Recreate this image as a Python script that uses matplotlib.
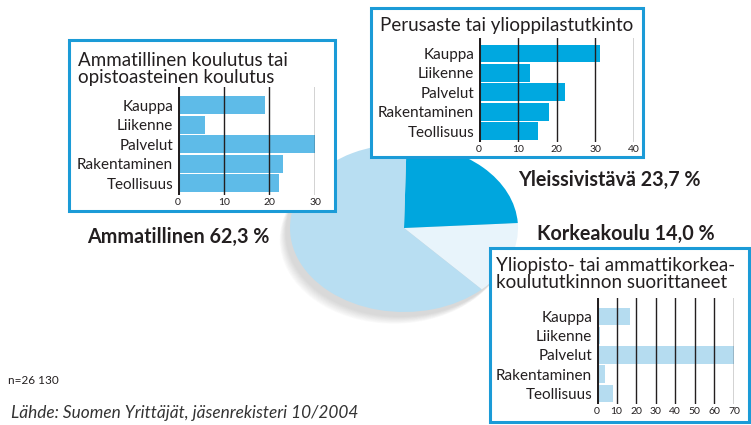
import matplotlib
matplotlib.use("Agg")
import matplotlib.pyplot as plt
from matplotlib.patches import Rectangle, Ellipse

plt.rcParams['font.family'] = ['Lato', 'DejaVu Sans']

W, H = 751, 425

# ---- data ----
pie_labels = ["Korkeakoulu", "Yleissivistävä", "Ammatillinen"]
pie_values = [14.0, 23.7, 62.3]
pie_texts = ["Korkeakoulu 14,0 %", "Yleissivistävä 23,7 %", "Ammatillinen 62,3 %"]

categories = ["Kauppa", "Liikenne", "Palvelut", "Rakentaminen", "Teollisuus"]
ammatillinen = [19.0, 6.0, 30.2, 23.0, 22.2]
perusaste = [31.2, 13.1, 22.1, 18.0, 15.2]
korkea = [17.1, 1.7, 70.0, 3.9, 8.0]

ticks1 = [0, 10, 20, 30]
ticks2 = [0, 10, 20, 30, 40]
ticks3 = [0, 10, 20, 30, 40, 50, 60, 70]

title1 = "Ammatillinen koulutus tai\nopistoasteinen koulutus"
title2 = "Perusaste tai ylioppilastutkinto"
title3 = "Yliopisto- tai ammattikorkea-\nkoulututkinnon suorittaneet"
note = "n=26 130"
source = "Lähde: Suomen Yrittäjät, jäsenrekisteri 10/2004"

TXT = '#231f20'
BORDER = '#1b9bd7'

fig = plt.figure(figsize=(W / 100, H / 100), dpi=100)
fig.patch.set_facecolor('white')


def px_axes(x0, y0, x1, y1, **kw):
    return fig.add_axes([x0 / W, 1 - y1 / H, (x1 - x0) / W, (y1 - y0) / H], **kw)


# ---- pie (tilted ellipse) ----
pax = px_axes(290, 144, 518, 312)
pax.set_zorder(0)
for i in range(12):
    k = i / 11
    pax.add_patch(Ellipse((-0.04 - 0.05 * k, -0.06 - 0.08 * k), 2.0, 2.0,
                          facecolor='#7a7a7a', edgecolor='none', alpha=0.025, zorder=0, clip_on=False))
pax.pie(pie_values, colors=['#e8f4fb', '#00a6de', '#b8def2'], startangle=-47,
        counterclock=True, radius=1.0, wedgeprops=dict(linewidth=0))
pax.set_aspect('auto')
pax.set_xlim(-1, 1)
pax.set_ylim(-1, 1)
pax.axis('off')

# ---- overlay for boxes and free text ----
bg = px_axes(0, 0, W, H)
bg.set_zorder(1)
bg.patch.set_alpha(0)
bg.set_xlim(0, W)
bg.set_ylim(H, 0)
bg.axis('off')

for (x0, y0, x1, y1) in [(69, 40, 335, 211), (371, 8, 643, 157), (490, 248, 749, 422)]:
    bg.add_patch(Rectangle((x0, y0), x1 - x0, y1 - y0, facecolor='white',
                           edgecolor=BORDER, linewidth=2.2))

bg.text(78, 83, title1, fontsize=13.5, color=TXT, va='baseline', ha='left', linespacing=1.0)
bg.text(380, 31, title2, fontsize=13.5, color=TXT, va='baseline', ha='left')
bg.text(496, 288, title3, fontsize=13.5, color=TXT, va='baseline', ha='left', linespacing=1.0)

bg.text(87, 237, pie_texts[2], fontsize=14.2, fontweight='bold', color=TXT, va='center', ha='left')
bg.text(518, 180, pie_texts[1], fontsize=14.2, fontweight='bold', color=TXT, va='center', ha='left')
bg.text(537, 234, pie_texts[0], fontsize=14.2, fontweight='bold', color=TXT, va='center', ha='left')

bg.text(8, 380, note, fontsize=8.5, color=TXT, va='center', ha='left')
bg.text(11, 413, source, fontsize=12.4, style='italic', color='#333333', va='center', ha='left')


# ---- bar panels ----
def panel(x0, x1, ytop, ybot, vmax, ticks, values, color, ylim):
    ax = px_axes(x0, ytop, x1, ybot)
    ax.set_zorder(2)
    ax.patch.set_alpha(0)
    ax.barh(range(len(categories)), values, height=0.91, color=color, zorder=1)
    for t in ticks[1:]:
        ax.axvline(t, color=TXT, lw=1.0, zorder=2)
    ax.axvline(0, color=TXT, lw=2.2, zorder=3)
    ax.set_xlim(0, vmax)
    ax.set_ylim(*ylim)
    ax.set_yticks(range(len(categories)))
    ax.set_yticklabels(categories, fontsize=11, color=TXT)
    ax.set_xticks(ticks)
    ax.set_xticklabels([str(t) for t in ticks], fontsize=7.5, color=TXT)
    ax.tick_params(axis='both', length=0)
    ax.tick_params(axis='y', pad=3.5)
    ax.tick_params(axis='x', pad=2.5)
    for s in ax.spines.values():
        s.set_visible(False)
    return ax


panel(178, 315, 87, 195, 30, ticks1, ammatillinen, '#5ebbe8', (4.61, -0.94))
panel(479, 634, 38, 142, 40, ticks2, perusaste, '#00a8e0', (4.56, -0.79))
panel(597, 734, 298, 404, 70, ticks3, korkea, '#b5dcf0', (4.55, -0.95))

fig.savefig('out.png', dpi=100, facecolor='white')
